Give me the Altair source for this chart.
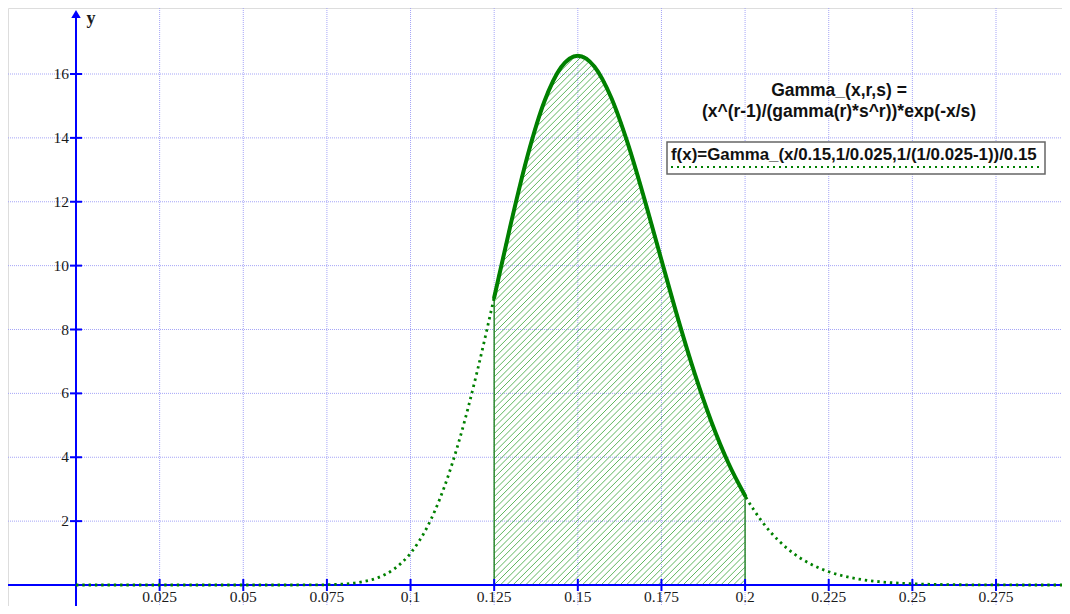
import altair as alt
import numpy as np
import pandas as pd

# ---- data ----
x_pts = [0.000, 0.010, 0.020, 0.030, 0.040, 0.050, 0.055, 0.060, 0.065, 0.070,
         0.075, 0.080, 0.085, 0.090, 0.095, 0.100, 0.105, 0.110, 0.115, 0.120,
         0.125, 0.130, 0.135, 0.140, 0.145, 0.150, 0.155, 0.160, 0.165, 0.170,
         0.175, 0.180, 0.185, 0.190, 0.195, 0.200, 0.205, 0.210, 0.215, 0.220,
         0.225, 0.230, 0.235, 0.240, 0.245, 0.250, 0.260, 0.270, 0.280, 0.290,
         0.300]
y_pts = [0.0, 0.0, 0.0, 0.0, 0.0, 0.0, 0.0, 0.0001, 0.0005, 0.0022,
         0.0089, 0.030, 0.087, 0.220, 0.494, 0.995, 1.818, 3.041, 4.691, 6.722,
         9.003, 11.323, 13.448, 15.137, 16.211, 16.575, 16.228, 15.255, 13.804, 12.052,
         10.174, 8.318, 6.600, 5.089, 3.820, 2.794, 1.995, 1.391, 0.949, 0.634,
         0.415, 0.267, 0.168, 0.104, 0.063, 0.038, 0.013, 0.004, 0.001, 0.0,
         0.0]
shade_from = 0.125
shade_to = 0.2

x_ticks = [0.025, 0.05, 0.075, 0.1, 0.125, 0.15, 0.175, 0.2, 0.225, 0.25, 0.275]
x_tick_labels = ["0.025", "0.05", "0.075", "0.1", "0.125", "0.15", "0.175", "0.2",
                 "0.225", "0.25", "0.275"]
y_ticks = [2, 4, 6, 8, 10, 12, 14, 16]
y_tick_labels = ["2", "4", "6", "8", "10", "12", "14", "16"]

formula_line1 = "Gamma_(x,r,s) ="
formula_line2 = "(x^(r-1)/(gamma(r)*s^r))*exp(-x/s)"
legend_text = "f(x)=Gamma_(x/0.15,1/0.025,1/(1/0.025-1))/0.15"

# ---- layout ----
W, H = 1054, 598
px_per_x = 920 / 0.275
px_per_y = 511 / 16.0
x_min = -68 / px_per_x
x_max = x_min + W / px_per_x
y_max = 577 / px_per_y
y_min = y_max - H / px_per_y

xs = alt.Scale(domain=[x_min, x_max], nice=False, zero=False)
ys = alt.Scale(domain=[y_min, y_max], nice=False, zero=False)


def X(f, **kw):
    return alt.X(f, type="quantitative", scale=xs, axis=None, **kw)


def Y(f, **kw):
    return alt.Y(f, type="quantitative", scale=ys, axis=None, **kw)


curve = pd.DataFrame({"x": x_pts, "y": y_pts})

# hatch segments (45 degrees on screen) inside the shaded area
k = px_per_x / px_per_y
fx = np.linspace(shade_from, shade_to, 4000)
fy = np.interp(fx, x_pts, y_pts)
segs = []
step = 6.3 / px_per_x
x0 = shade_from - float(fy.max()) / k - step
while x0 < shade_to:
    yl = k * (fx - x0)
    inside = (yl >= 0) & (yl <= fy)
    if inside.any():
        idx = np.where(inside)[0]
        xa, xb = float(fx[idx[0]]), float(fx[idx[-1]])
        segs.append({"x": xa, "y": k * (xa - x0), "x2": xb, "y2": k * (xb - x0)})
    x0 += step
hatch = pd.DataFrame(segs)

bounds = pd.DataFrame({"x": [shade_from, shade_to],
                       "y0": [0.0, 0.0],
                       "y": [float(np.interp(b, x_pts, y_pts)) for b in (shade_from, shade_to)]})

xt = pd.DataFrame({"v": x_ticks, "lab": x_tick_labels, "zero": [0.0] * len(x_ticks)})
yt = pd.DataFrame({"v": y_ticks, "lab": y_tick_labels, "zero": [0.0] * len(y_ticks)})
zero = pd.DataFrame({"zero": [0.0]})

grid_col = "#a5a5f7"
axis_col = "#0000ff"
green = "#008000"
serif = "Liberation Serif"
sans = "Liberation Sans"

grid_v = alt.Chart(xt).mark_rule(color=grid_col, strokeWidth=1, strokeDash=[1, 1]).encode(
    x=X("v"), y=alt.value(0), y2=alt.value(H))
grid_h = alt.Chart(yt).mark_rule(color=grid_col, strokeWidth=1, strokeDash=[1, 1]).encode(
    y=Y("v"), x=alt.value(0), x2=alt.value(W))

hatch_l = alt.Chart(hatch).mark_rule(color="#4fae4f", strokeWidth=1, opacity=0.9).encode(
    x=X("x"), y=Y("y"), x2="x2", y2="y2")
bound_l = alt.Chart(bounds).mark_rule(color="#2e8b2e", strokeWidth=1.5).encode(
    x=X("x"), y=Y("y0"), y2="y")

axis_y = alt.Chart(zero).mark_rule(color=axis_col, strokeWidth=2).encode(
    x=X("zero"), y=alt.value(6), y2=alt.value(H + 20))
axis_x = alt.Chart(zero).mark_rule(color=axis_col, strokeWidth=2).encode(
    y=Y("zero"), x=alt.value(0), x2=alt.value(W + 20))
arrow = alt.Chart(zero).mark_point(shape="triangle-up", filled=True, size=90,
                                   color=axis_col, opacity=1).encode(
    x=X("zero"), y=alt.value(6))
ytick_m = alt.Chart(yt).mark_rule(color=axis_col, strokeWidth=2, xOffset=-6, x2Offset=6).encode(
    x=X("zero"), x2="zero", y=Y("v"))
xtick_m = alt.Chart(xt).mark_rule(color=axis_col, strokeWidth=2, yOffset=-6, y2Offset=6).encode(
    y=Y("zero"), y2="zero", x=X("v"))

xlab = alt.Chart(xt).mark_text(font=serif, fontSize=15.5, color="#1a1a1a",
                               baseline="middle", align="center", dy=12).encode(
    x=X("v"), y=Y("zero"), text="lab")
ylab = alt.Chart(yt).mark_text(font=serif, fontSize=15.5, color="#1a1a1a",
                               baseline="middle", align="right", dx=-7).encode(
    x=X("zero"), y=Y("v"), text="lab")
ytitle = alt.Chart(zero).mark_text(font=serif, fontSize=18, fontWeight="bold",
                                   color="#1a1a1a", text="y", baseline="middle", align="center").encode(
    x=alt.value(83), y=alt.value(11))

dotted = alt.Chart(curve).mark_line(color=green, strokeWidth=2.8, strokeDash=[2.4, 3.9],
                                    interpolate="monotone", clip=True).encode(
    x=X("x"), y=Y("y"), order="x")
solid = alt.Chart(curve).transform_filter(
    (alt.datum.x >= shade_from - 1e-9) & (alt.datum.x <= shade_to + 1e-9)
).mark_line(color=green, strokeWidth=4, interpolate="monotone", strokeCap="round").encode(
    x=X("x"), y=Y("y"), order="x")

f1 = alt.Chart(zero).mark_text(font=sans, fontSize=17.5, fontWeight="bold",
                               color="#111111", text=formula_line1, align="center",
                               baseline="middle").encode(x=alt.value(831), y=alt.value(83))
f2 = alt.Chart(zero).mark_text(font=sans, fontSize=17.5, fontWeight="bold",
                               color="#111111", text=formula_line2, align="center",
                               baseline="middle").encode(x=alt.value(831), y=alt.value(104))
box = alt.Chart(zero).mark_rect(fill="white", stroke="#666666", strokeWidth=1.5).encode(
    x=alt.value(659), x2=alt.value(1037), y=alt.value(134), y2=alt.value(166))
box_text = alt.Chart(zero).mark_text(font=sans, fontSize=16.9, fontWeight="bold",
                                     color="#111111", text=legend_text, align="left",
                                     baseline="middle").encode(x=alt.value(663), y=alt.value(147))
box_line = alt.Chart(zero).mark_rule(color=green, strokeWidth=2, strokeDash=[2, 4]).encode(
    x=alt.value(663), x2=alt.value(1032), y=alt.value(159))

chart = alt.layer(
    grid_v, grid_h, hatch_l, bound_l, axis_x, axis_y, arrow, ytick_m, xtick_m,
    xlab, ylab, ytitle, dotted, solid, f1, f2, box, box_text, box_line
).properties(
    width=W, height=H, padding=0,
    autosize=alt.AutoSizeParams(type="none")
).configure_view(stroke=None).configure(background="white")

chart.save("out.html", embed_options={"renderer": "svg", "actions": False})
